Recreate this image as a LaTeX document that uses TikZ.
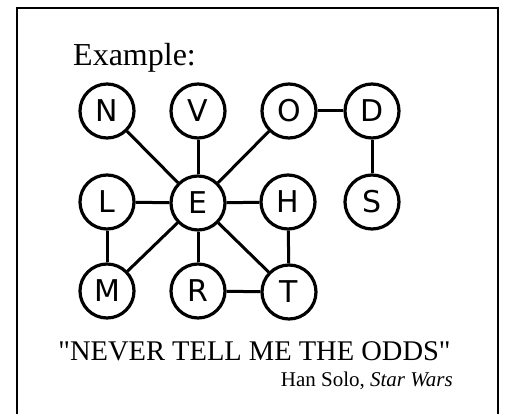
\documentclass[tikz,border=0pt]{standalone}
\usepackage{fontspec}
\setmainfont{Liberation Serif}
\newfontfamily\quotefont{Liberation Serif}
\newfontfamily\lettersf{DejaVu Sans}
\begin{document}
\begin{tikzpicture}[x=1pt,y=-1pt,
  vert/.style={circle,draw,line width=3.2pt,minimum size=54pt,inner sep=0pt,
    font=\lettersf\fontsize{30}{32}\selectfont},
  edge/.style={line width=3pt},
  txt/.style={inner sep=0pt}]
\useasboundingbox (0,0) rectangle (505,414);
\clip (0,0) rectangle (505,414);
\draw[line width=2pt] (16.7,8) rectangle (497.8,440);
\node[txt,anchor=base west,font=\fontsize{32}{36}\selectfont] (ex) at (73,66) {Example:};
\node[vert] (N) at (107,111) {N};
\node[vert] (V) at (198,111) {V};
\node[vert] (O) at (289,111) {O};
\node[vert] (D) at (372,111) {D};
\node[vert] (L) at (107,202) {L};
\node[vert] (E) at (198,203) {E};
\node[vert] (H) at (288,202) {H};
\node[vert] (S) at (372,202) {S};
\node[vert] (M) at (107,291) {M};
\node[vert] (R) at (198,291) {R};
\node[vert] (T) at (289,292) {T};
\foreach \a/\b in {N/E,V/E,O/E,O/D,D/S,L/E,E/H,E/M,E/R,E/T,H/T,L/M,R/T}
  \draw[edge] (\a) -- (\b);
\node[txt,anchor=base,font=\quotefont\fontsize{28.5}{32}\selectfont] (q) at (254.5,360) {"NEVER TELL ME THE ODDS"};
\node[txt,anchor=base east,font=\fontsize{21}{24}\selectfont] (a) at (453,386) {Han Solo, \textit{Star Wars}};
\end{tikzpicture}
\end{document}
